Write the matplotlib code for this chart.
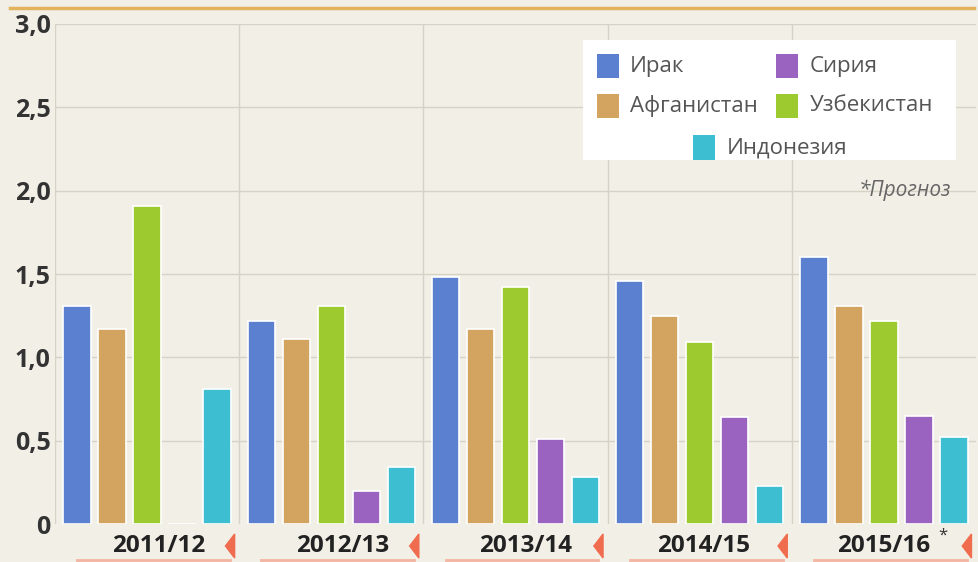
import matplotlib.pyplot as plt
import matplotlib.patches as mpatches
import numpy as np

plt.rcParams['font.family'] = ['Open Sans', 'DejaVu Sans']

# Data
years = ['2011/12', '2012/13', '2013/14', '2014/15', '2015/16']
countries = ['Ирак', 'Афганистан', 'Узбекистан', 'Сирия', 'Индонезия']
iraq = [1.31, 1.22, 1.48, 1.46, 1.60]
afghanistan = [1.17, 1.11, 1.17, 1.25, 1.31]
uzbekistan = [1.91, 1.31, 1.42, 1.09, 1.22]
syria = [0.0, 0.20, 0.51, 0.64, 0.65]
indonesia = [0.81, 0.34, 0.28, 0.23, 0.52]
y_ticks = [0, 0.5, 1.0, 1.5, 2.0, 2.5, 3.0]
y_tick_labels = ['0', '0,5', '1,0', '1,5', '2,0', '2,5', '3,0']

series = [iraq, afghanistan, uzbekistan, syria, indonesia]
colors = ['#5b80cf', '#d3a45f', '#9dcb2f', '#9963bf', '#3dbfd1']

BG = '#f2efe7'
GRID = '#d6d2c6'

fig = plt.figure(figsize=(9.79, 5.62), dpi=100, facecolor=BG)
ax = fig.add_axes([0.0562, 0.0676, 0.9408, 0.8897], facecolor=BG)

x = np.arange(len(years))
step = 0.19
width = 0.148
for i, (vals, col) in enumerate(zip(series, colors)):
    ax.bar(x + (i - 2) * step, vals, width=width, color=col,
           edgecolor='white', linewidth=1.2, zorder=3)

ax.set_xlim(-0.5, len(years) - 0.5)
ax.set_ylim(0, 3.0)

# grid
for yv in y_ticks[1:]:
    ax.axhline(yv, color=GRID, linewidth=1, zorder=1)
for xv in np.arange(-0.5, len(years) - 0.5):
    ax.axvline(xv, color=GRID, linewidth=1, zorder=1)

for s in ax.spines.values():
    s.set_visible(False)
ax.set_yticks(y_ticks)
ax.set_yticklabels(y_tick_labels, fontsize=18, fontweight='bold', color='#333333')
ax.tick_params(axis='y', length=0, pad=3)
ax.set_xticks([])

# year labels with triangles and underline
xt = ax.get_xaxis_transform()
label_shift = [0.065, 0.06, 0.055, 0.02, 0.0]
for i, yr in enumerate(years):
    ax.text(i + label_shift[i], -0.043, yr, transform=xt,
            ha='center', va='center', fontsize=17.5, fontweight='bold', color='#222222')
    tri = mpatches.Polygon([[i + 0.475, -0.02], [i + 0.425, -0.044], [i + 0.475, -0.068]],
                           closed=True, transform=xt,
                           color='#f06c4e', clip_on=False, zorder=4)
    ax.add_patch(tri)
    ax.plot([i - 0.38, i + 0.45], [-0.072, -0.072], transform=xt,
            color='#f3b4a0', linewidth=2, clip_on=False)
ax.text(4.32, -0.024, '*', transform=xt,
        ha='center', va='center', fontsize=12, color='#333333')

# top decorative line
fig.add_artist(plt.Line2D([0.01, 0.995], [0.986, 0.986], color='#e3b25c', linewidth=2.5))

# legend box drawn by hand
lg = mpatches.FancyBboxPatch((0.573, 0.728), 0.405, 0.24, boxstyle='square,pad=0',
                             transform=ax.transAxes, facecolor='white',
                             edgecolor='none', zorder=5)
ax.add_patch(lg)
entries = [(0, 0.588, 0.915), (1, 0.588, 0.836), (2, 0.783, 0.836),
           (3, 0.783, 0.915), (4, 0.693, 0.753)]
for idx, ex, ey in entries:
    ax.add_patch(mpatches.Rectangle((ex, ey - 0.024), 0.024, 0.048,
                                    transform=ax.transAxes, facecolor=colors[idx],
                                    edgecolor='none', zorder=6))
    ax.text(ex + 0.036, ey, countries[idx], transform=ax.transAxes, ha='left',
            va='center', fontsize=16, color='#555555', zorder=6)

ax.text(0.973, 0.668, '*Прогноз', transform=ax.transAxes, ha='right', va='center',
        fontsize=15, style='italic', color='#666666', zorder=6)

fig.savefig('out.png', dpi=100, facecolor=BG)
